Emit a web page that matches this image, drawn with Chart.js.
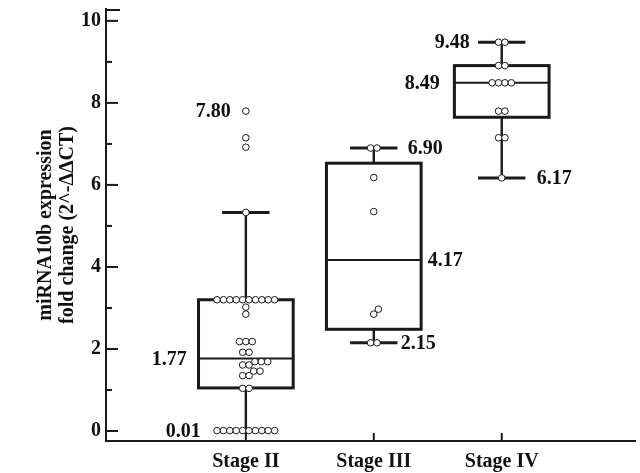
<!DOCTYPE html>
<html><head><meta charset="utf-8">
<script src="https://cdn.jsdelivr.net/npm/chart.js@4.4.1/dist/chart.umd.min.js"></script>
<style>html,body{margin:0;padding:0;background:#fff}canvas{display:block}</style>
</head><body>
<canvas id="c" width="640" height="473"></canvas>
<script>
// ---- data ----
const categories = ['Stage II', 'Stage III', 'Stage IV'];
const stageII = [0.01, 0.01, 0.01, 0.01, 0.01, 0.01, 0.01, 0.01, 0.01, 0.01,
  1.04, 1.04, 1.35, 1.35, 1.46, 1.46, 1.61, 1.61, 1.69, 1.69, 1.69,
  1.92, 1.92, 2.18, 2.18, 2.18, 2.85, 3.02,
  3.20, 3.20, 3.20, 3.20, 3.20, 3.20, 3.20, 3.20, 3.20, 3.20,
  5.33, 6.92, 7.15, 7.80];
const stageIII = [2.15, 2.15, 2.85, 2.97, 5.35, 6.18, 6.90, 6.90];
const stageIV = [6.17, 7.15, 7.15, 7.80, 7.80, 8.49, 8.49, 8.49, 8.49, 8.91, 8.91, 9.48, 9.48];
const q1 = [1.05, 2.48, 7.65];
const medians = [1.77, 4.17, 8.49];
const q3 = [3.20, 6.53, 8.91];
const whiskerLow = [0.01, 2.15, 6.17];
const whiskerHigh = [5.33, 6.90, 9.48];
const labelValues = [[7.80, 1.77, 0.01], [6.90, 4.17, 2.15], [9.48, 8.49, 6.17]];
const yMajorTicks = [0, 2, 4, 6, 8, 10];
const yMinorTicks = [1, 3, 5, 7, 9];
const yTitle = ['miRNA10b expression', 'fold change (2^-\u0394\u0394CT)'];

// ---- style ----
const series = [stageII, stageIII, stageIV];
const INK = '#1a1a1a';
const FONT = '"Liberation Serif", "Times New Roman", serif';
const labelLayout = [
  [[-15, 'right'], [-59, 'right'], [-45, 'right']],
  [[34, 'left'], [54, 'left'], [27, 'left']],
  [[-32, 'right'], [-62, 'right'], [35, 'left']]
];
const BOX_W = 0.74, CAP_W = 0.37, DOT_GAP = 6.4;

function seg(ctx, x1, y1, x2, y2) { ctx.beginPath(); ctx.moveTo(x1, y1); ctx.lineTo(x2, y2); ctx.stroke(); }

const boxPlugin = {
  id: 'boxes',
  beforeDatasetsDraw(chart) {
    const { ctx, scales: { x, y } } = chart;
    ctx.save();
    ctx.strokeStyle = INK;
    categories.forEach((c, i) => {
      const cx = x.getPixelForValue(i + 1);
      const xl = x.getPixelForValue(i + 1 - BOX_W / 2), xr = x.getPixelForValue(i + 1 + BOX_W / 2);
      const cl = x.getPixelForValue(i + 1 - CAP_W / 2), cr = x.getPixelForValue(i + 1 + CAP_W / 2);
      const yq1 = y.getPixelForValue(q1[i]), yq3 = y.getPixelForValue(q3[i]);
      const ym = y.getPixelForValue(medians[i]);
      const ylo = y.getPixelForValue(whiskerLow[i]), yhi = y.getPixelForValue(whiskerHigh[i]);
      ctx.lineWidth = 2.4;
      seg(ctx, cx, yq3, cx, yhi);
      seg(ctx, cx, yq1, cx, ylo);
      ctx.lineWidth = 3;
      seg(ctx, cl, yhi, cr, yhi);
      seg(ctx, cl, ylo, cr, ylo);
      ctx.fillStyle = '#fff';
      ctx.fillRect(xl, yq3, xr - xl, yq1 - yq3);
      ctx.strokeRect(xl, yq3, xr - xl, yq1 - yq3);
      ctx.lineWidth = 2;
      seg(ctx, xl, ym, xr, ym);
    });
    ctx.restore();
  }
};

const tickPlugin = {
  id: 'inTicks',
  afterDraw(chart) {
    const { ctx, scales: { x, y }, chartArea: a } = chart;
    ctx.save();
    ctx.strokeStyle = INK; ctx.lineWidth = 2;
    yMajorTicks.forEach(v => { const p = y.getPixelForValue(v); seg(ctx, a.left, p, a.left + 12, p); });
    yMinorTicks.forEach(v => { const p = y.getPixelForValue(v); seg(ctx, a.left, p, a.left + 6, p); });
    seg(ctx, a.left - 1, a.top + 1, a.left + 14, a.top + 1);
    x.ticks.forEach(t => { const p = x.getPixelForValue(t.value); seg(ctx, p, a.bottom, p, a.bottom - 8); });
    ctx.restore();
  }
};

const labelPlugin = {
  id: 'valueLabels',
  afterDatasetsDraw(chart) {
    const { ctx, scales: { x, y } } = chart;
    ctx.save();
    ctx.fillStyle = '#111';
    ctx.font = 'bold 20px ' + FONT;
    ctx.textBaseline = 'middle';
    labelValues.forEach((vals, i) => {
      const cx = x.getPixelForValue(i + 1);
      vals.forEach((v, k) => {
        const [dx, align] = labelLayout[i][k];
        ctx.textAlign = align;
        ctx.fillText(v.toFixed(2), cx + dx, y.getPixelForValue(v) + 1);
      });
    });
    ctx.restore();
  }
};

const chart = new Chart(document.getElementById('c'), {
  type: 'scatter',
  data: {
    datasets: series.map((vals, i) => ({
      label: categories[i],
      data: vals.map(v => ({ x: i + 1, y: v })),
      pointRadius: 3.3, pointHoverRadius: 3.3,
      pointBackgroundColor: '#fff', pointBorderColor: INK, pointBorderWidth: 1
    }))
  },
  options: {
    responsive: false, animation: false, devicePixelRatio: 1,
    layout: { padding: { top: 9, left: 0, right: 0, bottom: 0 } },
    plugins: { legend: { display: false }, tooltip: { enabled: false } },
    events: [],
    scales: {
      x: {
        type: 'linear', bounds: 'data', min: -0.093, max: 4.047,
        afterFit: s => { s.height = 32; },
        afterBuildTicks: s => { s.ticks = categories.map((c, i) => ({ value: i + 1 })); },
        grid: { display: false, drawTicks: true, tickLength: 9 },
        border: { display: true, color: INK, width: 2 },
        ticks: { autoSkip: false, maxRotation: 0, padding: 0, color: '#111',
          font: { family: FONT, size: 20, weight: 'bold' },
          callback: v => categories[v - 1] }
      },
      y: {
        type: 'linear', bounds: 'data', min: -0.244, max: 10.29,
        afterFit: s => { s.width = 106; },
        afterBuildTicks: s => { s.ticks = yMajorTicks.map(v => ({ value: v })); },
        grid: { display: false, drawTicks: true, tickLength: 5 },
        border: { display: true, color: INK, width: 2 },
        ticks: { padding: 0, color: '#111',
          font: { family: FONT, size: 20, weight: 'bold', lineHeight: 0.9 },
          callback: v => String(v) },
        title: { display: true, text: yTitle, color: '#111',
          font: { family: FONT, size: 20, weight: 'bold', lineHeight: 1.1 },
          padding: { top: 35, bottom: 0 } }
      }
    }
  },
  plugins: [boxPlugin, tickPlugin, labelPlugin]
});

// beeswarm placement of the dots (pixel-space collision avoidance)
function swarmOffsets(vals, yScale) {
  const order = vals.map((v, i) => i).sort((a, b) => vals[a] - vals[b]);
  const placed = [], offs = new Array(vals.length).fill(0);
  let k = 0;
  while (k < order.length) {
    let j = k;
    while (j < order.length && vals[order[j]] === vals[order[k]]) j++;
    const n = j - k, py = yScale.getPixelForValue(vals[order[k]]);
    let xs = null;
    for (let step = 0; step < 600 && !xs; step++) {
      for (const sgn of (step === 0 ? [1] : [1, -1])) {
        const c = sgn * step * 0.5;
        const cand = [];
        for (let m = 0; m < n; m++) cand.push(c + (m - (n - 1) / 2) * DOT_GAP);
        const ok = cand.every(px => placed.every(p => (p.x - px) ** 2 + (p.y - py) ** 2 >= DOT_GAP * DOT_GAP - 0.01));
        if (ok) { xs = cand; break; }
      }
    }
    for (let m = 0; m < n; m++) { offs[order[k + m]] = xs[m]; placed.push({ x: xs[m], y: py }); }
    k = j;
  }
  return offs;
}
(function applySwarm() {
  const { x, y } = chart.scales;
  series.forEach((vals, i) => {
    const offs = swarmOffsets(vals, y);
    const cx = x.getPixelForValue(i + 1);
    chart.data.datasets[i].data = vals.map((v, k) => ({ x: x.getValueForPixel(cx + offs[k]), y: v }));
  });
  chart.update('none');
})();
</script>
</body></html>
